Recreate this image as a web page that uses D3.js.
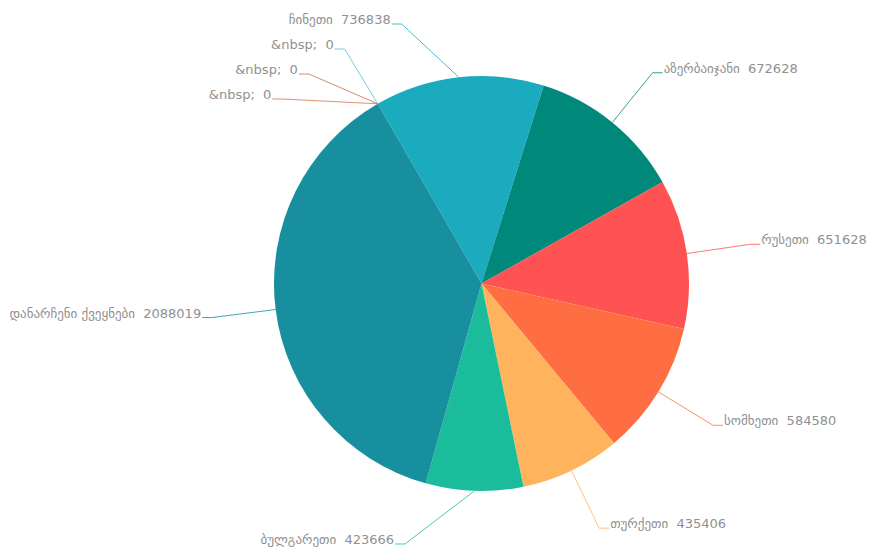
<!DOCTYPE html>
<meta charset="utf-8">
<head>
<style>
  body { margin: 0; background: #fff; }
  .lbl { font-family: "DejaVu Sans", sans-serif; font-size: 13px; fill: #909090; white-space: pre; }
</style>
</head>
<div id="chart"></div>
<script src="https://d3js.org/d3.v7.min.js"></script>
<script>
// data, in drawing order (clockwise)
var names = ["ჩინეთი", "აზერბაიჯანი", "რუსეთი", "სომხეთი", "თურქეთი", "ბულგარეთი", "დანარჩენი ქვეყნები", "&nbsp;", "&nbsp;", "&nbsp;"];
var values = [736838, 672628, 651628, 584580, 435406, 423666, 2088019, 0, 0, 0];
var colors = ["#1aabbf", "#00897b", "#ff5252", "#ff6e42", "#ffb35c", "#1abc9c", "#188f9f", "#4fc3d7", "#d06a44", "#d9734e"];

var width = 869, height = 549;
var cx = 481.5, cy = 283.5, r = 207.5;
var lineLen = 64, len2 = 10, gap = 25;

var data = names.map(function(n, i) { return {name: n, value: values[i], color: colors[i]}; });

var svg = d3.select("#chart").append("svg")
  .attr("width", width)
  .attr("height", height);

// start angle so the first slice begins a bit left of 12 o'clock
var pie = d3.pie()
  .sort(null)
  .value(function(d) { return d.value; })
  .startAngle(-30 * Math.PI / 180)
  .endAngle(330 * Math.PI / 180);

var arcs = pie(data);
var arc = d3.arc().innerRadius(0).outerRadius(r);

var g = svg.append("g").attr("transform", "translate(" + cx + "," + cy + ")");

g.selectAll("path.slice")
  .data(arcs)
  .enter().append("path")
    .attr("class", "slice")
    .attr("d", arc)
    .attr("fill", function(d) { return d.data.color; });

// label layout: lines go out radially, then labels get pushed apart vertically
var R2 = r + lineLen;
var labels = arcs.map(function(a) {
  var mid = (a.startAngle + a.endAngle) / 2;
  return {
    d: a.data,
    mid: mid,
    left: Math.sin(mid) < 0,
    y: -R2 * Math.cos(mid)
  };
});

var minY = 24 - cy, maxY = height - 5 - cy;
[true, false].forEach(function(side) {
  var list = labels.filter(function(l) { return l.left === side; })
    .sort(function(a, b) { return a.y - b.y; });
  list.forEach(function(l, i) {
    l.y = Math.max(l.y, minY);
    if (i > 0) l.y = Math.max(l.y, list[i - 1].y + gap);
  });
  for (var i = list.length - 1; i >= 0; i--) {
    list[i].y = Math.min(list[i].y, maxY);
    if (i < list.length - 1) list[i].y = Math.min(list[i].y, list[i + 1].y - gap);
  }
});

labels.forEach(function(l) {
  var dy = Math.min(Math.abs(l.y), R2);
  var dx = Math.sqrt(R2 * R2 - dy * dy);
  l.x = l.left ? -dx : dx;
  l.x0 = r * Math.sin(l.mid);
  l.y0 = -r * Math.cos(l.mid);
  l.x2 = l.x + (l.left ? -len2 : len2);
});

g.selectAll("polyline.lead")
  .data(labels)
  .enter().append("polyline")
    .attr("class", "lead")
    .attr("points", function(l) { return [[l.x0, l.y0], [l.x, l.y], [l.x2, l.y]].join(" "); })
    .attr("fill", "none")
    .attr("stroke", function(l) { return l.d.color; })
    .attr("stroke-opacity", 0.8)
    .attr("stroke-width", 1);

g.selectAll("text.lbl")
  .data(labels)
  .enter().append("text")
    .attr("class", "lbl")
    .attr("x", function(l) { return l.x2 + (l.left ? -1 : 1); })
    .attr("y", function(l) { return l.y; })
    .attr("text-anchor", function(l) { return l.left ? "end" : "start"; })
    .text(function(l) { return l.d.name + "  " + l.d.value; });
</script>
